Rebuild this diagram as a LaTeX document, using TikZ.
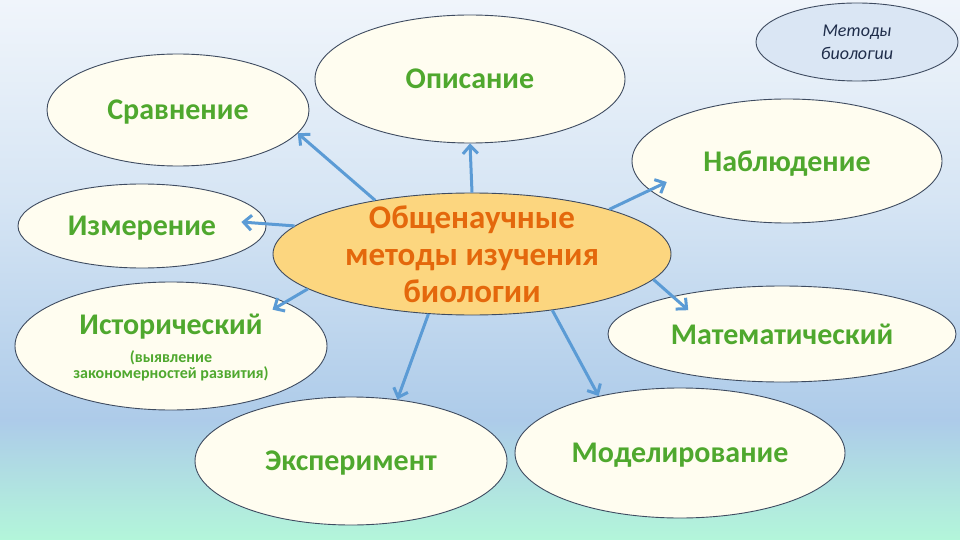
\documentclass[tikz,border=0pt]{standalone}
\usepackage{fontspec}
\setmainfont{Carlito}
\usetikzlibrary{positioning,arrows.meta,shapes.geometric}
\definecolor{bgtop}{HTML}{F0F5FB}
\definecolor{bgmid}{HTML}{D6E5F4}
\definecolor{bglow}{HTML}{ADCBE9}
\definecolor{bgbot}{HTML}{B3F6DA}
\definecolor{cream}{HTML}{FFFDF0}
\definecolor{edge}{HTML}{3E4B60}
\definecolor{leaf}{HTML}{4FA82E}
\definecolor{gold}{HTML}{FCD67F}
\definecolor{rust}{HTML}{E4680C}
\definecolor{sky}{HTML}{DAE6F4}
\definecolor{navy}{HTML}{1F2D4A}
\definecolor{link}{HTML}{5B9BD5}
\tikzset{
    bubble/.style = {
        draw=edge,
        fill=cream,
        shape=ellipse,
        inner sep=0pt,
        line width=0.9pt,
        text=leaf,
        text depth=0pt,
        font=\bfseries\fontsize{30}{32}\selectfont
    },
    core/.style = {
        bubble,
        fill=gold,
        text=rust,
        align=center,
        inner ysep=-22pt,
        font=\bfseries\fontsize{33}{37}\selectfont
    },
    note/.style = {
        bubble,
        fill=sky,
        text=navy,
        align=center,
        text depth={},
        font=\itshape\fontsize{18}{23}\selectfont
    },
    wire/.style = {
        draw=link,
        line width=3pt
    },
    >={Straight Barb[length=8pt,width=15pt]},
}
\begin{document}
\begin{tikzpicture}[x=1pt,y=-1pt]
                \useasboundingbox (0,0) rectangle (960,540);
                % background
                \shade[top color=bgtop, bottom color=bgmid] (0,0) rectangle (960,201);
                \shade[top color=bgmid, bottom color=bglow] (0,200) rectangle (960,421);
                \shade[top color=bglow, bottom color=bgbot] (0,420) rectangle (960,540);

                \node[bubble, minimum width=262pt, minimum height=112pt] (srav) at (178,110) {Сравнение};
                \node[bubble, minimum width=310pt, minimum height=128pt] (opis) at (470,79) {Описание};
                \node[note, minimum width=202pt, minimum height=78pt] (note) at (857,42) {Методы\\биологии};
                \node[bubble, minimum width=310pt, minimum height=124pt] (nabl) at (787,161) {Наблюдение};
                \node[bubble, minimum width=248pt, minimum height=84pt] (izm) at (142,226) {Измерение};
                \node[core, minimum width=398pt, minimum height=122pt] (main) at (472,254) {Общенаучные\\методы изучения\\биологии};
                \node[bubble, minimum width=312pt, minimum height=128pt, align=center] (ist) at (171,346)
                    {Исторический\\[-4pt]{\fontsize{16}{16}\selectfont (выявление}\\[-16pt]{\fontsize{16}{16}\selectfont закономерностей развития)}};
                \node[bubble, minimum width=348pt, minimum height=96pt] (mat) at (782,334) {Математический};
                \node[bubble, minimum width=312pt, minimum height=128pt] (exper) at (351,461) {Эксперимент};
                \node[bubble, minimum width=330pt, minimum height=130pt] (model) at (680,453) {Моделирование};

                \path[wire, ->] (main.151) -- (srav.-11);
                \path[wire, ->] (main.90) -- (opis.-90);
                \path[wire, ->, shorten >=-19pt] (main.18) -- (nabl.192);
                \path[wire, ->, shorten >=-25pt] (main.171) -- (izm.1);
                \path[wire, ->, shorten >=-15pt] (main.192) -- (ist.21);
                \path[wire, ->, shorten >=-21pt] (main.-8) -- (mat.161);
                \path[wire, ->] (main.-35) -- (model.145);
                \path[wire, ->] (main.234) -- (exper.53);
\end{tikzpicture}
\end{document}
